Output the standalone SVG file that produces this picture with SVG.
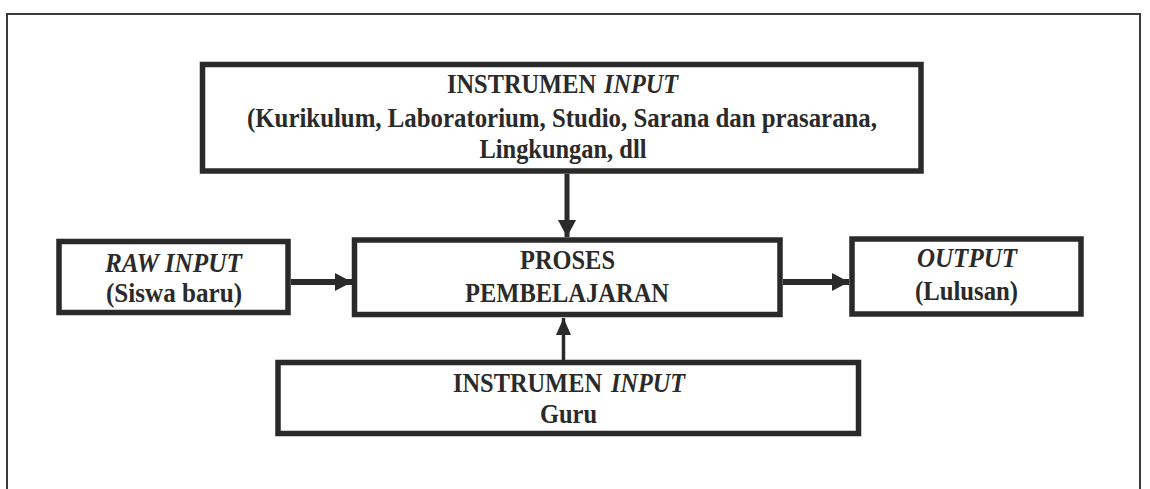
<svg xmlns="http://www.w3.org/2000/svg" width="1150" height="489" viewBox="0 0 1150 489">
<style>
.box{fill:#fff;stroke:#2a2a2a;stroke-width:5.5}
.t{font-family:"Liberation Serif","Times New Roman",serif;font-weight:bold;font-size:27px;fill:#2a2a2a;text-anchor:middle}
.s{text-anchor:start}
.i{font-style:italic}
.c{stroke:#2a2a2a;fill:none}
</style>
<defs>
<marker id="ah" markerUnits="userSpaceOnUse" markerWidth="18" markerHeight="20" refX="17" refY="10" orient="auto">
<path d="M0,1 L17,10 L0,19 Z" fill="#2a2a2a"/>
</marker>
<marker id="ahs" markerUnits="userSpaceOnUse" markerWidth="18" markerHeight="16" refX="17" refY="8" orient="auto">
<path d="M0,0.5 L17,8 L0,15.5 Z" fill="#2a2a2a"/>
</marker>
</defs>
<rect width="1150" height="489" fill="#fff"/>
<path d="M7,495 V14 H1140 V495" fill="none" stroke="#3a3a3a" stroke-width="2"/>
<g id="top">
<rect class="box" x="202.5" y="64.5" width="718.5" height="106.5"/>
<text class="t s" x="447" y="93" textLength="149" lengthAdjust="spacingAndGlyphs">INSTRUMEN</text>
<text class="t s i" x="604" y="93" textLength="74" lengthAdjust="spacingAndGlyphs">INPUT</text>
<text class="t" x="562" y="127" textLength="630" lengthAdjust="spacingAndGlyphs">(Kurikulum, Laboratorium, Studio, Sarana dan prasarana,</text>
<text class="t" x="563" y="158" textLength="167" lengthAdjust="spacingAndGlyphs">Lingkungan, dll</text>
</g>
<g id="raw">
<rect class="box" x="59" y="241.5" width="229" height="71"/>
<text class="t i" x="173.5" y="271.5" textLength="137" lengthAdjust="spacingAndGlyphs">RAW INPUT</text>
<text class="t" x="174" y="302" textLength="136" lengthAdjust="spacingAndGlyphs">(Siswa baru)</text>
</g>
<g id="proses">
<rect class="box" x="354.5" y="240" width="425.5" height="74.5"/>
<text class="t" x="567.5" y="269" textLength="95" lengthAdjust="spacingAndGlyphs">PROSES</text>
<text class="t" x="567" y="302" textLength="204" lengthAdjust="spacingAndGlyphs">PEMBELAJARAN</text>
</g>
<g id="output">
<rect class="box" x="852" y="239" width="229" height="75"/>
<text class="t i" x="967" y="267" textLength="100" lengthAdjust="spacingAndGlyphs">OUTPUT</text>
<text class="t" x="966.5" y="300" textLength="103" lengthAdjust="spacingAndGlyphs">(Lulusan)</text>
</g>
<g id="guru">
<rect class="box" x="278" y="362.5" width="580.5" height="71"/>
<text class="t s" x="453" y="392" textLength="149" lengthAdjust="spacingAndGlyphs">INSTRUMEN</text>
<text class="t s i" x="611" y="392" textLength="74" lengthAdjust="spacingAndGlyphs">INPUT</text>
<text class="t" x="568.5" y="423" textLength="57" lengthAdjust="spacingAndGlyphs">Guru</text>
</g>
<g id="connectors">
<line class="c" x1="567" y1="174" x2="567" y2="237" stroke-width="5" marker-end="url(#ah)"/>
<line class="c" x1="291" y1="282" x2="352" y2="282" stroke-width="6" marker-end="url(#ah)"/>
<line class="c" x1="783" y1="282" x2="849" y2="282" stroke-width="6" marker-end="url(#ah)"/>
<line class="c" x1="563.5" y1="360" x2="563.5" y2="318" stroke-width="3.5" marker-end="url(#ahs)"/>
</g>
</svg>
